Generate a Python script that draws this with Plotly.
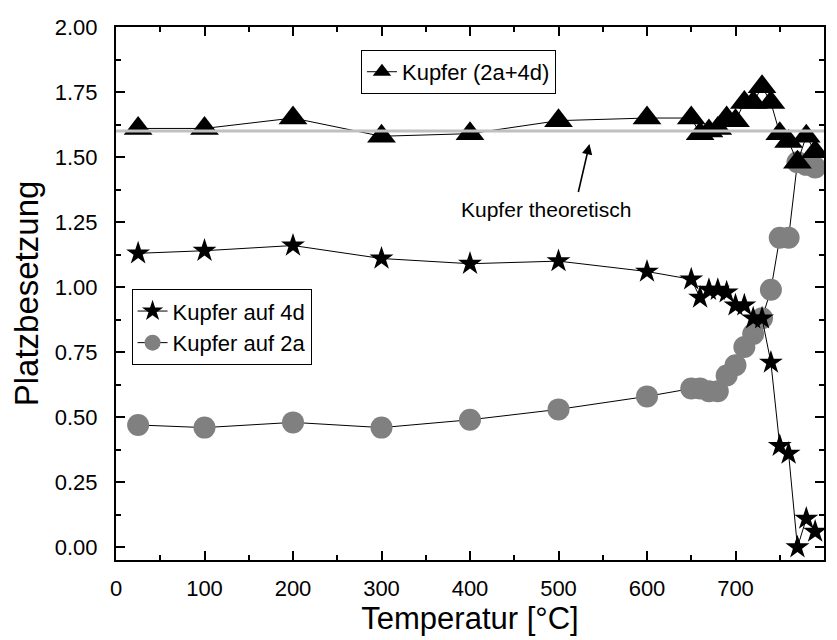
import plotly.graph_objects as go

# ---- data ----
temps = [25, 100, 200, 300, 400, 500, 600, 650, 660, 670, 680, 690, 700, 710, 720, 730, 740, 750, 760, 770, 780, 790]
cu_total = [1.61, 1.61, 1.65, 1.58, 1.59, 1.64, 1.65, 1.65, 1.59, 1.60, 1.61, 1.65, 1.64, 1.71, 1.71, 1.77, 1.71, 1.59, 1.56, 1.48, 1.58, 1.52]
cu_4d = [1.13, 1.14, 1.16, 1.11, 1.09, 1.10, 1.06, 1.03, 0.96, 0.99, 0.99, 0.98, 0.93, 0.93, 0.88, 0.88, 0.71, 0.39, 0.36, 0.00, 0.11, 0.06]
cu_2a = [0.47, 0.46, 0.48, 0.46, 0.49, 0.53, 0.58, 0.61, 0.61, 0.60, 0.60, 0.66, 0.70, 0.77, 0.82, 0.88, 0.99, 1.19, 1.19, 1.48, 1.47, 1.46]
theo_x = [0, 800]
theo_value = 1.6

x_ticks = [0, 100, 200, 300, 400, 500, 600, 700, 800]
y_ticks = [0.00, 0.25, 0.50, 0.75, 1.00, 1.25, 1.50, 1.75, 2.00]

FONT = "Liberation Sans Narrow, Arial Narrow, Liberation Sans, Arial, sans-serif"

fig = go.Figure()

fig.add_trace(go.Scatter(
    x=temps, y=cu_2a, mode="lines+markers", name="Kupfer auf 2a",
    line=dict(color="black", width=1),
    marker=dict(symbol="circle", size=22, color="#808080", line=dict(width=0)),
    legend="legend2", legendrank=2,
))
fig.add_trace(go.Scatter(
    x=temps, y=cu_4d, mode="lines+markers", name="Kupfer auf 4d",
    line=dict(color="black", width=1),
    marker=dict(symbol="star", size=18, color="black", line=dict(width=0)),
    legend="legend2", legendrank=1,
))
fig.add_trace(go.Scatter(
    x=temps, y=cu_total, mode="lines+markers", name="Kupfer (2a+4d)",
    line=dict(color="black", width=1),
    marker=dict(symbol="triangle-up", size=25, color="black", line=dict(width=0)),
    legend="legend",
))
fig.add_trace(go.Scatter(
    x=theo_x, y=[theo_value] * len(theo_x), mode="lines",
    line=dict(color="#c0c0c0", width=3), showlegend=False, hoverinfo="skip",
))

fig.add_annotation(
    x=535, y=1.55, ax=522, ay=1.36, xref="x", yref="y", axref="x", ayref="y",
    text="", showarrow=True, arrowhead=2, arrowsize=1.3, arrowwidth=1.6, arrowcolor="black",
)
fig.add_annotation(
    x=486, y=1.30, xref="x", yref="y", text="Kupfer theoretisch", showarrow=False,
    font=dict(family=FONT, size=21, color="black"),
)

axis_common = dict(
    showline=True, linecolor="black", linewidth=2, mirror="ticks",
    ticks="inside", ticklen=9, tickwidth=1.5, tickcolor="black",
    showgrid=False, zeroline=False,
    tickfont=dict(family=FONT, size=22, color="black"),
)

fig.update_layout(
    width=837, height=640,
    margin=dict(l=116, r=11, t=27, b=80),
    paper_bgcolor="white", plot_bgcolor="white",
    font=dict(family=FONT, color="black"),
    xaxis=dict(
        range=[0, 800], tickvals=x_ticks, ticktext=[str(v) for v in x_ticks],
        minor=dict(dtick=50, ticks="inside", ticklen=5, tickwidth=1.5, tickcolor="black"),
        title=dict(text="Temperatur [°C]", font=dict(family=FONT, size=31, color="black"), standoff=4),
        ticklabelstandoff=8,
        **axis_common,
    ),
    yaxis=dict(
        range=[-0.049, 2.0], tickvals=y_ticks, ticktext=[f"{v:.2f}" for v in y_ticks],
        minor=dict(dtick=0.125, ticks="inside", ticklen=5, tickwidth=1.5, tickcolor="black"),
        title=dict(text="Platzbesetzung", font=dict(family=FONT, size=33, color="black"), standoff=6),
        ticklabelstandoff=12,
        **axis_common,
    ),
    legend=dict(
        x=0.346, y=0.957, xanchor="left", yanchor="top",
        bordercolor="black", borderwidth=1, bgcolor="white",
        font=dict(family=FONT, size=22, color="black"),
    ),
    legend2=dict(
        x=0.022, y=0.508, xanchor="left", yanchor="top",
        bordercolor="black", borderwidth=1, bgcolor="white",
        font=dict(family=FONT, size=22, color="black"),
        tracegroupgap=0,
    ),
    showlegend=True,
)

fig.write_html("out.html")
